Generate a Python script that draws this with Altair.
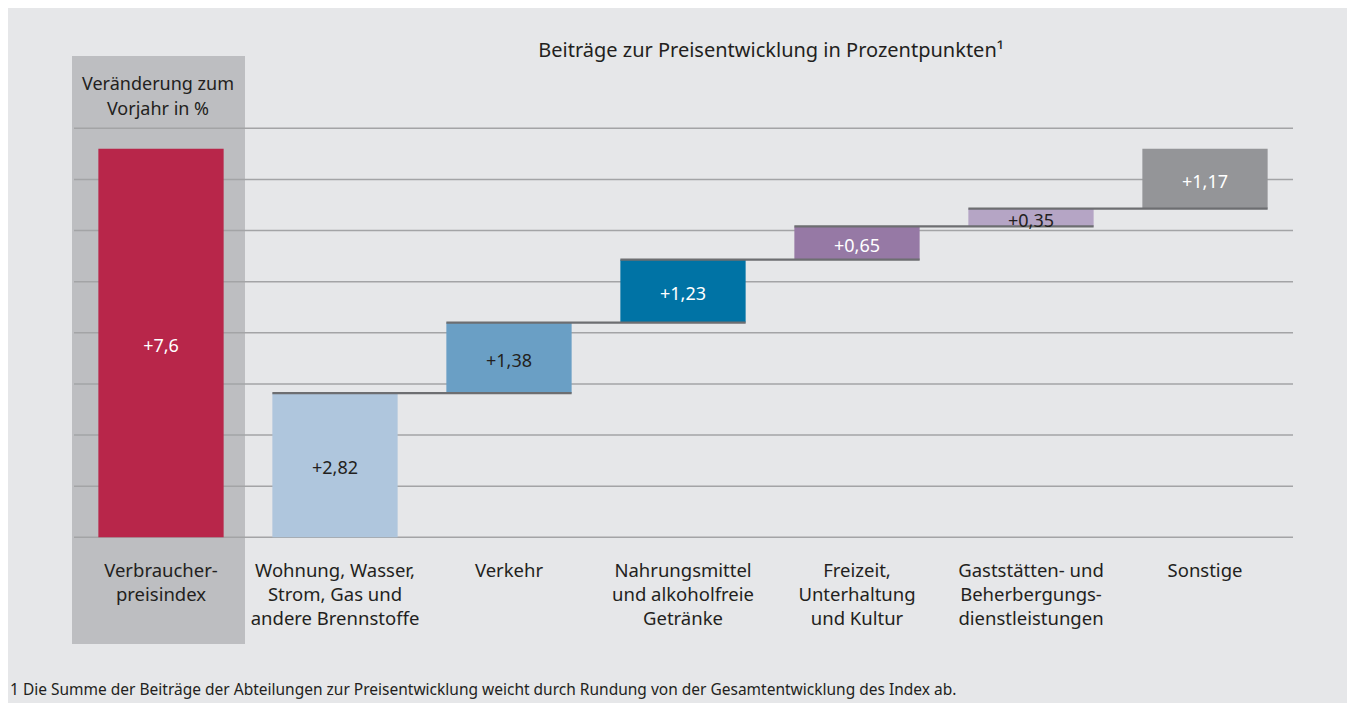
import altair as alt
import pandas as pd

# ---- data ----
categories = [
    "Verbraucher-\npreisindex",
    "Wohnung, Wasser,\nStrom, Gas und\nandere Brennstoffe",
    "Verkehr",
    "Nahrungsmittel\nund alkoholfreie\nGetränke",
    "Freizeit,\nUnterhaltung\nund Kultur",
    "Gaststätten- und\nBeherbergungs-\ndienstleistungen",
    "Sonstige",
]
values = [7.6, 2.82, 1.38, 1.23, 0.65, 0.35, 1.17]
value_labels = ["+7,6", "+2,82", "+1,38", "+1,23", "+0,65", "+0,35", "+1,17"]
bar_colors = ["#b8264a", "#afc6dd", "#6a9fc5", "#0073a5", "#9679a5", "#b5a5c5", "#949598"]
label_colors = ["#ffffff", "#231f20", "#231f20", "#ffffff", "#ffffff", "#231f20", "#ffffff"]
grid_values = [0, 1, 2, 3, 4, 5, 6, 7, 8]

title_text = "Beiträge zur Preisentwicklung in Prozentpunkten¹"
header_text = "Veränderung zum\nVorjahr in %"
footnote_text = ("1 Die Summe der Beiträge der Abteilungen zur Preisentwicklung weicht durch "
                 "Rundung von der Gesamtentwicklung des Index ab.")

FONT = "Noto Sans"
HALF = 0.36  # half bar width in category units

# ---- build tables ----
rows = []
cum = 0.0
for i, (cat, v, lab, fc, lc) in enumerate(zip(categories, values, value_labels, bar_colors, label_colors)):
    if i == 0:
        y0, y1 = 0.0, v
    else:
        y0, y1 = cum, cum + v
        cum = y1
    rows.append(dict(idx=i, cat=cat, y0=y0, y1=y1, mid=(y0 + y1) / 2,
                     x0=i - HALF, x1=i + HALF, fill=fc, lab=lab, lcol=lc))
bars = pd.DataFrame(rows)

conn = []
for i in range(1, len(values) - 1):
    conn.append(dict(x0=i - HALF, x1=i + 1 + HALF, y=bars.loc[i, "y1"]))
conn = pd.DataFrame(conn)

grid = pd.DataFrame({"v": grid_values})

x_scale = alt.Scale(domain=[0, 6], range=[153, 1197], nice=False, zero=False)
y_scale = alt.Scale(domain=[0, 8], range=[529.3, 120.3], nice=False, zero=False)

one = pd.DataFrame({"a": [0]})

box = alt.Chart(one).mark_rect(color="#bdbec1").encode(
    x=alt.value(64), x2=alt.value(237), y=alt.value(48), y2=alt.value(636))

gridlines = alt.Chart(grid).mark_rule(color="#a3a4a6", strokeWidth=1.5).encode(
    y=alt.Y("v:Q", scale=y_scale, axis=None),
    x=alt.value(66), x2=alt.value(1285))

bar_layer = alt.Chart(bars).mark_rect().encode(
    x=alt.X("x0:Q", scale=x_scale, axis=None), x2="x1:Q",
    y=alt.Y("y0:Q", scale=y_scale, axis=None), y2="y1:Q",
    color=alt.Color("fill:N", scale=None))

conn_layer = alt.Chart(conn).mark_rule(color="#6d6e71", strokeWidth=2.2).encode(
    x=alt.X("x0:Q", scale=x_scale, axis=None), x2="x1:Q",
    y=alt.Y("y:Q", scale=y_scale, axis=None))

value_text = alt.Chart(bars).mark_text(font=FONT, fontSize=18, baseline="middle", align="center",
                                       dy=4).encode(
    x=alt.X("idx:Q", scale=x_scale, axis=None),
    y=alt.Y("mid:Q", scale=y_scale, axis=None),
    text="lab:N",
    color=alt.Color("lcol:N", scale=None))

cat_text = alt.Chart(bars).mark_text(font=FONT, fontSize=18.5, baseline="top", align="center",
                                     lineBreak="\n", lineHeight=24, color="#231f20").encode(
    x=alt.X("idx:Q", scale=x_scale, axis=None),
    y=alt.value(554),
    text="cat:N")

header = alt.Chart(pd.DataFrame({"t": [header_text]})).mark_text(
    font=FONT, fontSize=18, baseline="top", align="center", lineBreak="\n", lineHeight=25,
    color="#231f20").encode(x=alt.value(150), y=alt.value(68), text="t:N")

title = alt.Chart(pd.DataFrame({"t": [title_text]})).mark_text(
    font=FONT, fontSize=20, baseline="middle", align="center", color="#231f20").encode(
    x=alt.value(763), y=alt.value(43), text="t:N")

footnote = alt.Chart(pd.DataFrame({"t": [footnote_text]})).mark_text(
    font=FONT, fontSize=15.5, baseline="middle", align="left", color="#231f20").encode(
    x=alt.value(2), y=alt.value(682), text="t:N")

chart = alt.layer(box, gridlines, bar_layer, conn_layer, value_text, cat_text,
                  header, title, footnote).properties(
    width=1339, height=695,
    background="#e6e7e9",
    padding=0,
    autosize=alt.AutoSizeParams(type="none"),
).configure_view(stroke=None)

chart.save("out.html", embed_options={"renderer": "svg", "actions": False})
